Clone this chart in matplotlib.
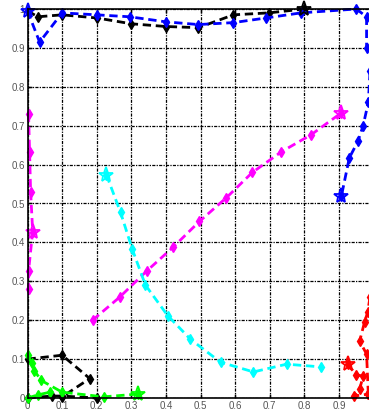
import numpy as np
import matplotlib
matplotlib.use('Agg')
from matplotlib import pyplot as plt

plt.rcParams['font.family'] = ['Liberation Sans', 'DejaVu Sans']

# trajectories (x, y)
blue_top_x = [0.0, 0.035, 0.1, 0.2, 0.295, 0.4, 0.494, 0.595, 0.69, 0.79, 0.95, 0.98, 0.98]
blue_top_y = [0.995, 0.915, 0.99, 0.985, 0.98, 0.967, 0.96, 0.965, 0.977, 0.99, 1.0, 0.98, 0.90]
blue_right_x = [0.99, 0.985, 0.97, 0.955, 0.93, 0.907]
blue_right_y = [0.84, 0.76, 0.70, 0.66, 0.617, 0.518]

black_top_x = [0.0, 0.03, 0.1, 0.2, 0.3, 0.4, 0.494, 0.595, 0.697, 0.8]
black_top_y = [0.995, 0.98, 0.985, 0.977, 0.962, 0.955, 0.952, 0.985, 0.99, 1.0]

black_bot_x = [0.0, 0.1, 0.18, 0.1]
black_bot_y = [0.1, 0.11, 0.05, 0.003]
black_base_x = [0.0, 0.07, 0.1, 0.2]
black_base_y = [0.0, 0.005, 0.005, 0.0]

magenta_diag_x = [0.188, 0.266, 0.344, 0.42, 0.497, 0.575, 0.65, 0.734, 0.82, 0.907]
magenta_diag_y = [0.2, 0.259, 0.326, 0.387, 0.454, 0.515, 0.58, 0.633, 0.677, 0.733]
magenta_left_x = [0.003, 0.006, 0.009, 0.015, 0.003, 0.003]
magenta_left_y = [0.731, 0.633, 0.53, 0.428, 0.326, 0.28]

cyan_x = [0.228, 0.269, 0.303, 0.341, 0.405, 0.471, 0.558, 0.653, 0.749, 0.847]
cyan_y = [0.574, 0.477, 0.382, 0.29, 0.212, 0.151, 0.092, 0.067, 0.087, 0.08]

green_x = [0.318, 0.22, 0.1, 0.04, 0.02, 0.012, 0.0]
green_y = [0.01, 0.003, 0.015, 0.045, 0.07, 0.09, 0.11]
green_low_x = [0.0, 0.03, 0.065]
green_low_y = [0.0, 0.008, 0.015]

red_x = [0.925, 0.95, 0.97, 0.96, 0.945, 0.985]
red_y = [0.087, 0.06, 0.056, 0.023, 0.005, 0.01]
red_up_x = [0.985, 0.98, 0.96, 0.974, 0.983, 0.99]
red_up_y = [0.01, 0.113, 0.146, 0.195, 0.22, 0.26]

ticks = [0, 0.1, 0.2, 0.3, 0.4, 0.5, 0.6, 0.7, 0.8, 0.9, 1]
xtick_labels = ['0', '0.1', '0.2', '0.3', '0.4', '0.5', '0.6', '0.7', '0.8', '0.9', '']
ytick_labels = ['0', '0.1', '0.2', '0.3', '0.4', '0.5', '0.6', '0.7', '0.8', '0.9', '1']

fig = plt.figure(figsize=(3.69, 4.15), dpi=100)
ax = fig.add_axes([27.5/369, 17/415, 346/369, 389/415])

dash = (0, (3, 1.7))
kw = dict(linestyle=dash, lw=2.0, marker='d', ms=5.5, clip_on=False)

def star(x, y, c):
    ax.plot([x], [y], marker='*', ms=11, mfc='none', mec=c, mew=1.3,
            linestyle='none', clip_on=False)

ax.plot(black_top_x, black_top_y, color='k', **kw)
ax.plot(blue_top_x, blue_top_y, color='#0000ff', **kw)
ax.plot(blue_right_x, blue_right_y, color='#0000ff', **kw)
ax.plot(black_bot_x, black_bot_y, color='k', **kw)
ax.plot(black_base_x, black_base_y, color='k', **kw)
ax.plot(magenta_diag_x, magenta_diag_y, color='#ff00ff', **kw)
ax.plot(magenta_left_x, magenta_left_y, color='#ff00ff', **kw)
ax.plot(cyan_x, cyan_y, color='#00ffff', **kw)
ax.plot(green_x, green_y, color='#00ff00', **kw)
ax.plot(green_low_x, green_low_y, color='#00ff00', **kw)
ax.plot(red_x, red_y, color='#ff0000', **kw)
ax.plot(red_up_x, red_up_y, color='#ff0000', **kw)

star(blue_top_x[0], blue_top_y[0], '#0000ff')
star(blue_right_x[-1], blue_right_y[-1], '#0000ff')
star(black_top_x[-1], black_top_y[-1], 'k')
star(magenta_diag_x[-1], magenta_diag_y[-1], '#ff00ff')
star(magenta_left_x[3], magenta_left_y[3], '#ff00ff')
star(cyan_x[0], cyan_y[0], '#00ffff')
star(green_x[0], green_y[0], '#00ff00')
star(red_x[0], red_y[0], '#ff0000')

ax.set_xlim(0, 1)
ax.set_ylim(0, 1)
ax.set_xticks(ticks)
ax.set_xticklabels(xtick_labels)
ax.set_yticks(ticks)
ax.set_yticklabels(ytick_labels)
ax.grid(True, color='k', linestyle=(0, (2.5, 1, 1, 1)), lw=0.9)
ax.tick_params(direction='in', top=True, right=True, length=3, width=1,
               labelsize=7, labelcolor='#555555', pad=2)
for s in ax.spines.values():
    s.set_linewidth(1.2)

fig.savefig('out.png', dpi=100)
